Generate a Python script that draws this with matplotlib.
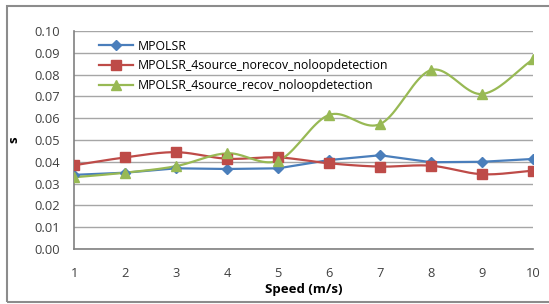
import matplotlib
matplotlib.use('Agg')
import matplotlib.pyplot as plt
import numpy as np
from matplotlib.patches import Rectangle

speed = [1, 2, 3, 4, 5, 6, 7, 8, 9, 10]
mpolsr = [0.034, 0.035, 0.037, 0.0367, 0.037, 0.0408, 0.043, 0.0398, 0.040, 0.0413]
norecov = [0.0384, 0.042, 0.0444, 0.0414, 0.042, 0.0393, 0.0378, 0.0382, 0.0343, 0.0359]
recov = [0.0329, 0.035, 0.038, 0.0439, 0.0405, 0.0615, 0.0573, 0.0821, 0.0711, 0.087]
labels = ['MPOLSR', 'MPOLSR_4source_norecov_noloopdetection',
          'MPOLSR_4source_recov_noloopdetection']
yticks = [0.00, 0.01, 0.02, 0.03, 0.04, 0.05, 0.06, 0.07, 0.08, 0.09, 0.10]


def smooth(x, y, n=20):
    # catmull-rom curve through the points, like excel's smoothed line
    x = np.asarray(x, float)
    y = np.asarray(y, float)
    px = np.concatenate([[2 * x[0] - x[1]], x, [2 * x[-1] - x[-2]]])
    py = np.concatenate([[2 * y[0] - y[1]], y, [2 * y[-1] - y[-2]]])
    xs, ys = [], []
    t = np.linspace(0, 1, n, endpoint=False)
    for i in range(1, len(px) - 2):
        for p, out in ((px, xs), (py, ys)):
            p0, p1, p2, p3 = p[i - 1], p[i], p[i + 1], p[i + 2]
            out.extend(0.5 * (2 * p1 + (-p0 + p2) * t + (2 * p0 - 5 * p1 + 4 * p2 - p3) * t ** 2
                              + (-p0 + 3 * p1 - 3 * p2 + p3) * t ** 3))
    xs.append(x[-1])
    ys.append(y[-1])
    return xs, ys


plt.rcParams['font.family'] = ['Open Sans', 'DejaVu Sans']
fig = plt.figure(figsize=(5.49, 3.04), dpi=100)
ax = fig.add_axes([0.135, 0.181, 0.836, 0.717])

series = [(mpolsr, '#4A7EBB', 'D', 5, False),
          (norecov, '#BE4B48', 's', 6.5, True),
          (recov, '#98B954', '^', 7, True)]
for (vals, col, mk, ms, sm), lab in zip(series, labels):
    if sm:
        sx, sy = smooth(speed, vals)
    else:
        sx, sy = speed, vals
    ax.plot(sx, sy, color=col, lw=1.6, zorder=3)
    ax.plot(speed, vals, color=col, lw=1.6, marker=mk, ms=ms, ls='none', zorder=4)
    ax.plot([], [], color=col, lw=1.6, marker=mk, ms=ms, label=lab)

ax.set_xlim(1, 10)
ax.set_ylim(0, 0.10)
ax.set_xticks(speed)
ax.set_yticks(yticks)
ax.set_yticklabels(['%.2f' % v for v in yticks])
ax.grid(axis='y', color='#a6a6a6', lw=1)
ax.set_axisbelow(True)
for s in ['top', 'right']:
    ax.spines[s].set_visible(False)
for s in ['left', 'bottom']:
    ax.spines[s].set_color('#808080')
    ax.spines[s].set_linewidth(1.2)
ax.tick_params(length=0, labelsize=9.3, colors='#404040')
ax.tick_params(axis='x', pad=13)
ax.tick_params(axis='y', pad=10)
ax.set_xlabel('Speed (m/s)', fontsize=9.5, fontweight='bold', labelpad=2)
ax.set_ylabel('s', fontsize=9.5, fontweight='bold', labelpad=10)

handles, labs = ax.get_legend_handles_labels()
ax.legend(handles[-3:], labs[-3:], loc='upper left', bbox_to_anchor=(0.035, 1.0),
          frameon=False, fontsize=8.8, handlelength=2.8, labelspacing=0.55,
          borderaxespad=0.3, handletextpad=0.4)

# chart border, right side runs off the image like in the screenshot
fig.patches.append(Rectangle((0.0128, 0.0066), 1.05, 0.9734, transform=fig.transFigure,
                             fill=False, ec='#8c8c8c', lw=1.5))

fig.savefig('out.png', dpi=100)
